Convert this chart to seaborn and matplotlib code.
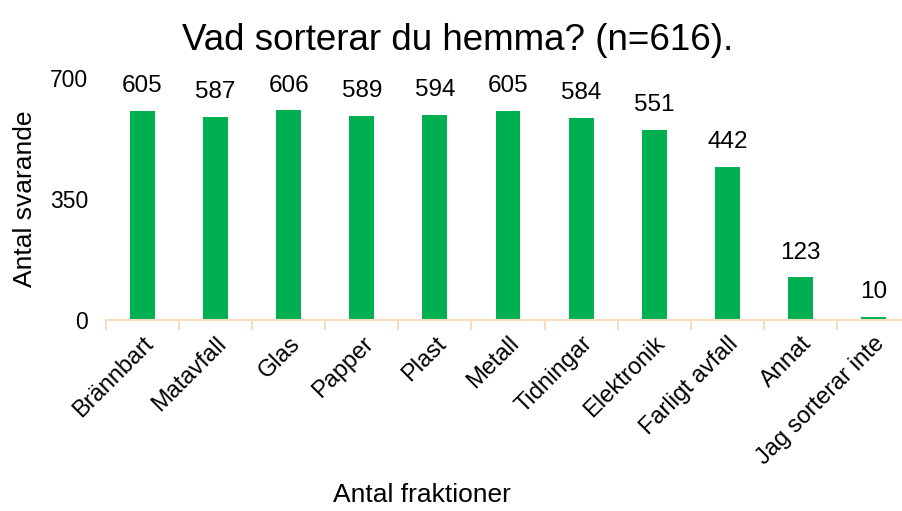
import matplotlib
matplotlib.use("Agg")
import matplotlib.pyplot as plt
import seaborn as sns
import pandas as pd
import numpy as np

categories = ["Brännbart", "Matavfall", "Glas", "Papper", "Plast", "Metall",
              "Tidningar", "Elektronik", "Farligt avfall", "Annat", "Jag sorterar inte"]
values = [605, 587, 606, 589, 594, 605, 584, 551, 442, 123, 10]
yticks = [0, 350, 700]

sns.set_style("white")
plt.rcParams['font.family'] = ['Liberation Sans', 'DejaVu Sans']
plt.rcParams['text.color'] = 'black'
plt.rcParams['axes.labelcolor'] = 'black'
plt.rcParams['xtick.color'] = 'black'
plt.rcParams['ytick.color'] = 'black'

df = pd.DataFrame({"cat": categories, "val": values})

fig = plt.figure(figsize=(9.02, 5.11), dpi=100)
ax = fig.add_axes([106/902, 191/511, 804/902, 242/511])

sns.barplot(data=df, x="cat", y="val", color="#00B050", width=0.34,
            saturation=1, ax=ax, edgecolor="none")

ax.set_ylim(0, 700)
ax.set_xlim(-0.5, len(categories) - 0.5)
ax.set_yticks(yticks)
ax.set_yticklabels([str(t) for t in yticks], fontsize=16.5)
ax.tick_params(axis='y', length=0, pad=13)

for s in ["top", "right", "left"]:
    ax.spines[s].set_visible(False)
ax.spines["bottom"].set_color("#F8DCC0")
ax.spines["bottom"].set_linewidth(1.5)

ax.set_xticks(range(len(categories)))
ax.set_xticklabels(categories, rotation=45, ha="right", rotation_mode="anchor", fontsize=17)
ax.tick_params(axis='x', which='major', length=0, pad=9)
ax.set_xticks(np.arange(-0.5, len(categories) - 0.5, 1.0), minor=True)
ax.tick_params(axis='x', which='minor', bottom=True, length=7, width=1.5,
               color="#F8DCC0", direction="out")

for i, v in enumerate(values):
    ax.annotate(str(v), (i, v), xytext=(0, 10), textcoords="offset points",
                ha="center", va="bottom", fontsize=17.5, color="black")

ax.set_ylabel("Antal svarande", fontsize=19)
ax.yaxis.set_label_coords((25 - 106) / 804, 0.5)
ax.set_xlabel("Antal fraktioner", fontsize=19)
ax.xaxis.set_label_coords((422 - 106) / 804, -(495 - 320) / 242)
ax.xaxis.label.set_va("center")
ax.yaxis.label.set_va("center")

fig.suptitle("Vad sorterar du hemma? (n=616).", fontsize=26.5, x=458/902,
             y=1 - 40/511, va="center")

fig.savefig("out.png", dpi=100)
